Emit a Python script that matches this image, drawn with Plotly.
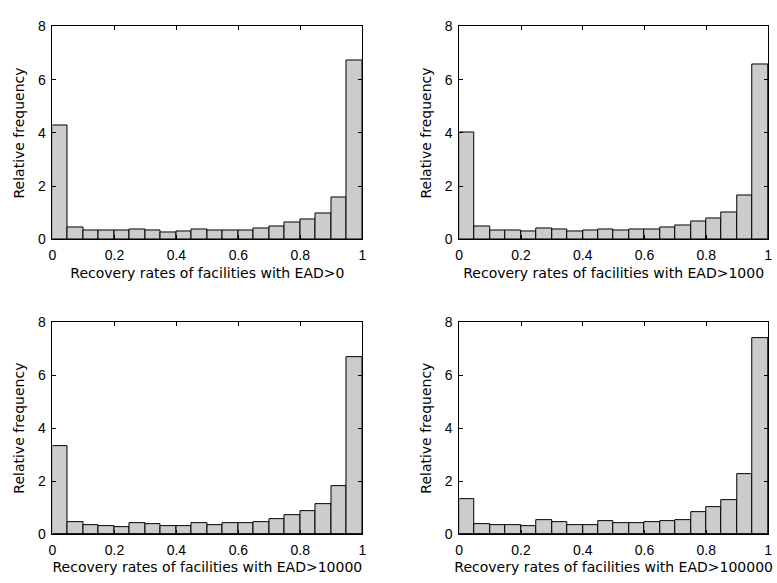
import numpy as np
import plotly.graph_objects as go

# Histogram bin edges: 20 equal bins on [0, 1]
bin_edges = np.linspace(0, 1, 21)

# Relative frequency (density) per bin for each exposure threshold
freq_ead_0 = [4.27, 0.45, 0.33, 0.33, 0.33, 0.39, 0.33, 0.28, 0.29, 0.37,
              0.32, 0.35, 0.35, 0.40, 0.48, 0.62, 0.76, 0.98, 1.57, 6.74]
freq_ead_1000 = [4.02, 0.48, 0.33, 0.33, 0.29, 0.40, 0.37, 0.29, 0.32, 0.39,
                 0.34, 0.38, 0.39, 0.44, 0.51, 0.66, 0.80, 1.02, 1.66, 6.56]
freq_ead_10000 = [3.32, 0.44, 0.33, 0.32, 0.28, 0.43, 0.38, 0.29, 0.32, 0.42,
                  0.35, 0.40, 0.43, 0.46, 0.56, 0.73, 0.88, 1.12, 1.81, 6.69]
freq_ead_100000 = [1.34, 0.37, 0.33, 0.34, 0.32, 0.53, 0.46, 0.35, 0.35, 0.49,
                   0.42, 0.42, 0.46, 0.49, 0.54, 0.84, 1.01, 1.27, 2.27, 7.39]

x_titles = [
    "Recovery rates of facilities with EAD>0",
    "Recovery rates of facilities with EAD>1000",
    "Recovery rates of facilities with EAD>10000",
    "Recovery rates of facilities with EAD>100000",
]
series = [freq_ead_0, freq_ead_1000, freq_ead_10000, freq_ead_100000]

x_ticks = [0, 0.2, 0.4, 0.6, 0.8, 1]
x_ticklabels = ["0", "0.2", "0.4", "0.6", "0.8", "1"]
y_ticks = [0, 2, 4, 6, 8]

W, H = 777, 583
# Panel boxes in pixels: (left, right, top, bottom)
boxes = [(49, 362, 19, 238), (460, 772, 19, 238),
         (49, 362, 323, 541), (460, 772, 323, 541)]

centers = (bin_edges[:-1] + bin_edges[1:]) / 2
widths = np.diff(bin_edges)

fig = go.Figure()
tick_font = dict(family="Liberation Sans, Arial, sans-serif", size=14, color="black")
title_font = dict(family="DejaVu Sans, sans-serif", size=14, color="black")
layout = {}
for i, (vals, title, box) in enumerate(zip(series, x_titles, boxes)):
    n = "" if i == 0 else str(i + 1)
    fig.add_trace(go.Bar(
        x=centers, y=vals, width=widths,
        marker=dict(color="#cccccc", line=dict(color="black", width=1)),
        xaxis="x" + n, yaxis="y" + n, showlegend=False,
    ))
    l, r, t, b = box
    common = dict(showline=True, linecolor="black", linewidth=1, mirror="ticks",
                  ticks="inside", ticklen=4, tickcolor="black", showgrid=False,
                  zeroline=False, tickfont=tick_font)
    layout["xaxis" + n] = dict(
        domain=[l / W, r / W], anchor="y" + n, range=[0, 1],
        tickvals=x_ticks, ticktext=x_ticklabels, ticklabelstandoff=3,
        title=dict(text=title, font=title_font, standoff=5), **common)
    layout["yaxis" + n] = dict(
        domain=[1 - b / H, 1 - t / H], anchor="x" + n, range=[0, 8],
        tickvals=y_ticks, ticklabelstandoff=3,
        title=dict(text="Relative frequency", font=title_font, standoff=9),
        **common)

fig.update_layout(
    width=W, height=H, margin=dict(l=0, r=0, t=0, b=0),
    paper_bgcolor="white", plot_bgcolor="white", bargap=0, font=tick_font,
    **layout,
)
fig.write_html("out.html")
